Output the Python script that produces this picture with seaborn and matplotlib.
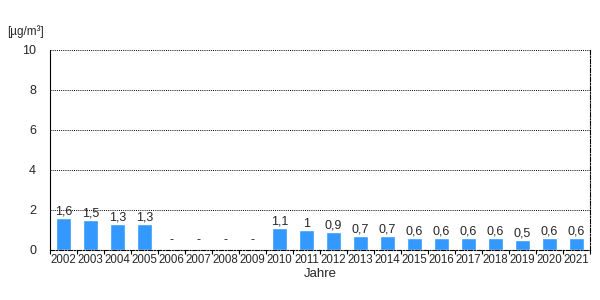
import matplotlib
matplotlib.use("Agg")
import matplotlib.pyplot as plt
import seaborn as sns
import numpy as np
import pandas as pd

years = [str(y) for y in range(2002, 2022)]
values = [1.6, 1.5, 1.3, 1.3, np.nan, np.nan, np.nan, np.nan, 1.1, 1.0, 0.9,
          0.7, 0.7, 0.6, 0.6, 0.6, 0.6, 0.5, 0.6, 0.6]
yticks = [0, 2, 4, 6, 8, 10]
unit_label = "[µg/m³]"
x_label = "Jahre"

sns.set_theme(style="white")
plt.rcParams['font.family'] = ['Liberation Sans', 'DejaVu Sans']
plt.rcParams['font.size'] = 9

df = pd.DataFrame({"Jahr": years, "Wert": values})

fig = plt.figure(figsize=(6, 3), dpi=100)
ax = fig.add_axes([50/600, 50/300, 540/600, 200/300])
sns.barplot(data=df, x="Jahr", y="Wert", color="#3399FF", saturation=1,
            width=0.54, ax=ax)
ax.set_ylim(0, 10)
ax.set_xlim(-0.5, len(years) - 0.5)
ax.set_yticks(yticks)
ax.set_yticklabels([str(t) for t in yticks], fontsize=9)
ax.tick_params(axis='x', labelsize=8.3, length=0, pad=3)
ax.tick_params(axis='y', length=4, width=0.8, color='black', direction='out', pad=6)
ax.set_xticks(range(len(years)))
ax.set_xticks(np.arange(-0.5, len(years), 1), minor=True)
ax.tick_params(axis='x', which='minor', length=3, width=0.8, color='black', bottom=True, direction='out')
ax.set_xlabel(x_label, fontsize=9.5, labelpad=1)
ax.set_ylabel("")

for t in yticks[1:]:
    ax.axhline(t, color='black', linestyle=(0, (1, 1.2)), linewidth=0.7, zorder=0)

ax.spines['left'].set_color('black')
ax.spines['left'].set_linewidth(0.8)
for s in ['bottom', 'right']:
    ax.spines[s].set_color('black')
    ax.spines[s].set_linewidth(0.8)
    ax.spines[s].set_linestyle((0, (4, 1.5, 1, 1.5)))
ax.spines['top'].set_visible(False)

for i, v in enumerate(values):
    if np.isnan(v):
        ax.text(i, 0.2, "-", ha='center', va='bottom', fontsize=9)
    else:
        lab = ("%g" % v).replace(".", ",")
        ax.text(i, v + 0.0, lab, ha='center', va='bottom', fontsize=9)

fig.text(7/600, 1 - 32/300, unit_label, ha='left', va='center', fontsize=8.5)

fig.savefig("out.png", dpi=100)
